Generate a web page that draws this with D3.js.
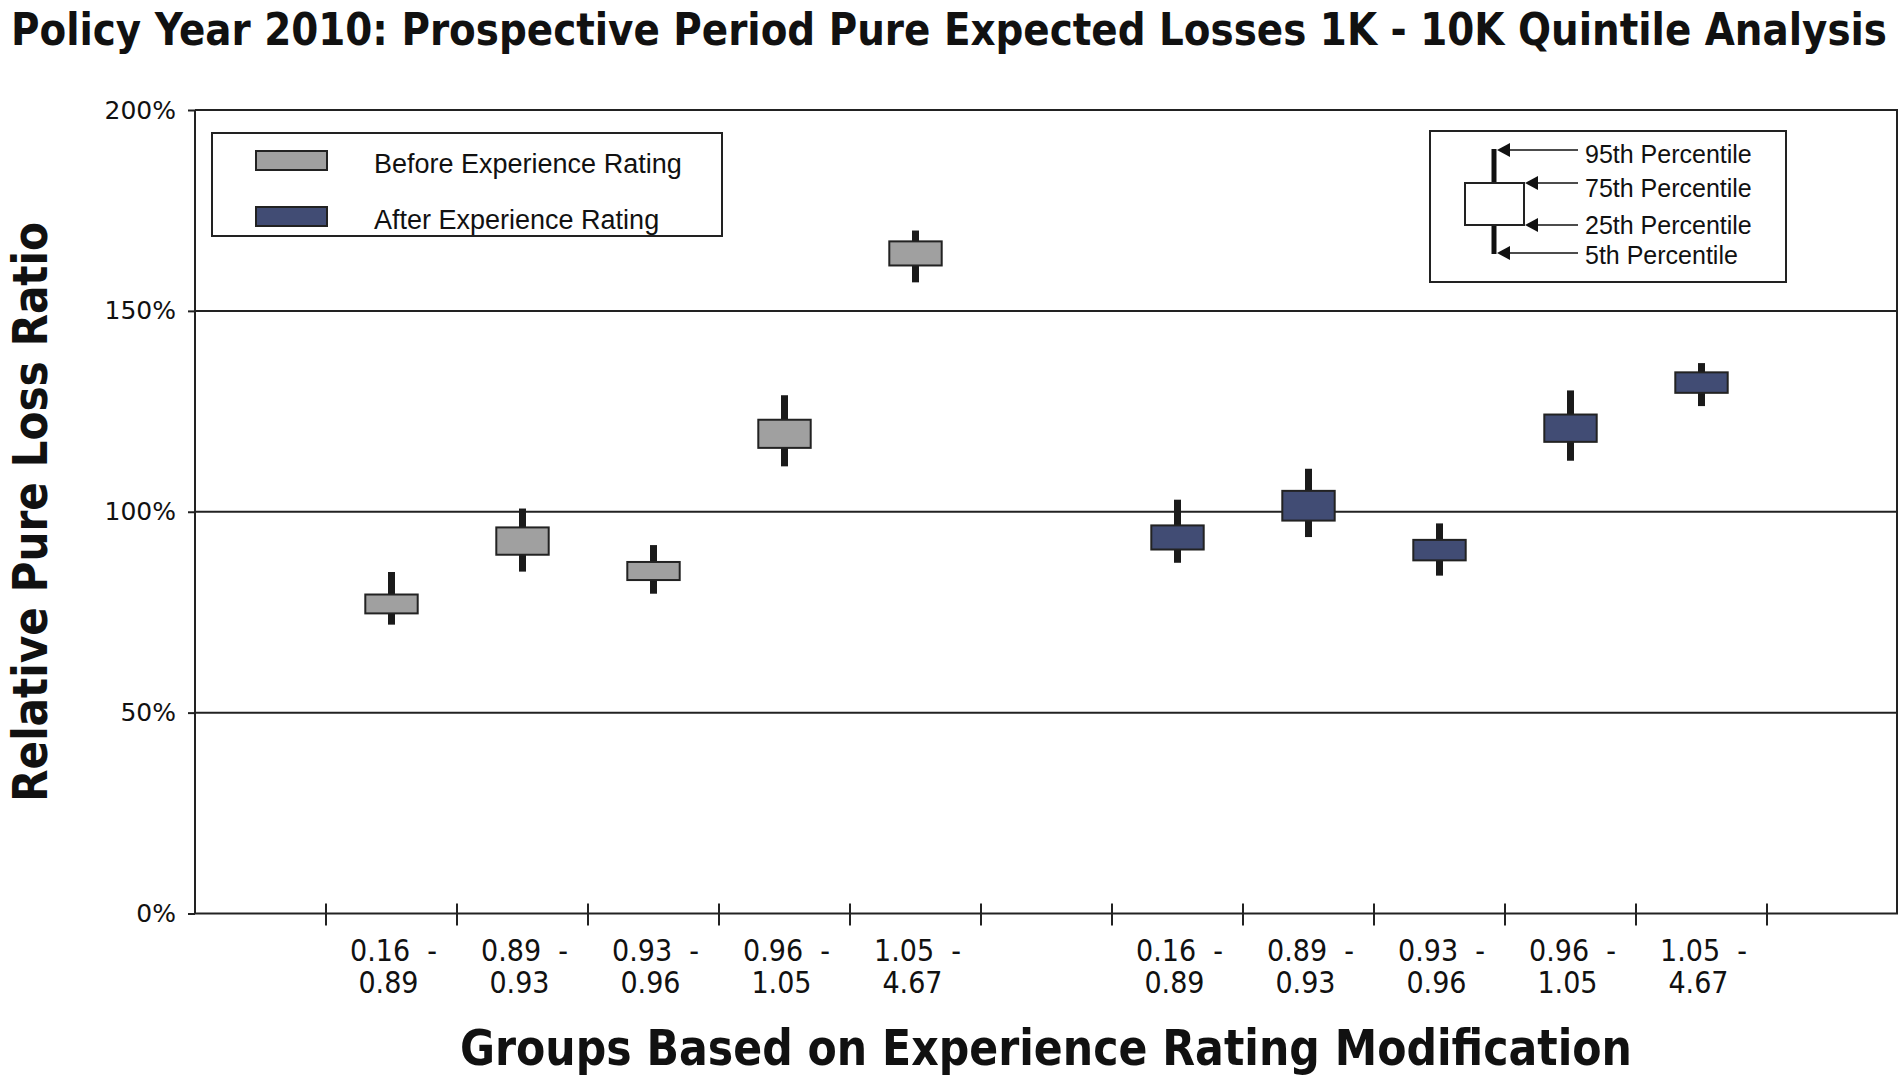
<!DOCTYPE html>
<html>
<head>
<meta charset="utf-8">
<script src="https://cdn.jsdelivr.net/npm/d3@7"></script>
<style>
  body { margin: 0; background: #fff; }
  svg { display: block; }
  .narrow { font-family: "Liberation Sans Narrow", "Arial Narrow", "DejaVu Sans Condensed", sans-serif; }
  .plain { font-family: "Liberation Sans", Arial, sans-serif; }
</style>
</head>
<body>
<svg id="chart" width="1900" height="1079"></svg>
<script>
// groups (experience mod ranges)
const lowBounds  = ["0.16", "0.89", "0.93", "0.96", "1.05"];
const highBounds = ["0.89", "0.93", "0.96", "1.05", "4.67"];

// before experience rating, percentiles (%)
const beforeP5  = [71.9, 85.1, 79.6, 111.3, 157.1];
const beforeP25 = [74.7, 89.3, 83.0, 115.9, 161.3];
const beforeP75 = [79.4, 96.1, 87.5, 122.9, 167.3];
const beforeP95 = [85.0, 100.8, 91.7, 129.0, 170.0];

// after experience rating, percentiles (%)
const afterP5  = [87.3, 93.7, 84.1, 112.7, 126.3];
const afterP25 = [90.6, 97.8, 87.9, 117.4, 129.6];
const afterP75 = [96.6, 105.2, 93.0, 124.2, 134.7];
const afterP95 = [103.0, 110.7, 97.1, 130.2, 137.0];

const yTicks = [0, 50, 100, 150, 200];

const greyFill = "#a0a0a0";
const navyFill = "#414c74";
const ink = "#222";

const svg = d3.select('#chart');
const margin = {left: 195, right: 2, top: 110, bottom: 166};
const W = 1900, H = 1079;

// slots: empty, 5 before, empty, 5 after, empty
const slots = ["pad0"].concat(lowBounds.map((d,i) => "B" + i), ["gap"], lowBounds.map((d,i) => "A" + i), ["pad1"]);

const x = d3.scaleBand()
    .domain(slots)
    .range([margin.left, W - margin.right]);

const y = d3.scaleLinear()
    .domain([0, 200])
    .range([H - margin.bottom + 0.5, margin.top]);

// build box records
let boxes = [];
lowBounds.forEach((d,i) => {
    boxes.push({slot: "B" + i, p5: beforeP5[i], p25: beforeP25[i], p75: beforeP75[i], p95: beforeP95[i], fill: greyFill});
    boxes.push({slot: "A" + i, p5: afterP5[i], p25: afterP25[i], p75: afterP75[i], p95: afterP95[i], fill: navyFill});
});

// gridlines
svg.append('g')
    .selectAll('line').data(yTicks.filter(d => d > 0))
    .join('line')
    .attr('x1', x.range()[0]).attr('x2', x.range()[1])
    .attr('y1', d => y(d)).attr('y2', d => y(d))
    .attr('stroke', ink).attr('stroke-width', 2);

// right border
svg.append('line')
    .attr('x1', x.range()[1] - 1).attr('x2', x.range()[1] - 1)
    .attr('y1', y(200)).attr('y2', y(0))
    .attr('stroke', ink).attr('stroke-width', 2);

// y axis
const yAxis = svg.append('g')
    .attr('transform', "translate(" + x.range()[0] + ",0)")
    .call(d3.axisLeft(y).tickValues(yTicks).tickSize(7).tickPadding(12).tickFormat(d => d + "%"));
yAxis.select('.domain').attr('stroke', ink).attr('stroke-width', 2).attr('d', "M0," + y(200) + "V" + y(0));
yAxis.selectAll('.tick line').attr('stroke', ink).attr('stroke-width', 2);
yAxis.selectAll('.tick text')
    .attr('font-family', '"DejaVu Sans", sans-serif')
    .attr('font-size', 25)
    .attr('fill', '#111');

// x axis line + boundary ticks
svg.append('line')
    .attr('x1', x.range()[0]).attr('x2', x.range()[1])
    .attr('y1', y(0)).attr('y2', y(0))
    .attr('stroke', ink).attr('stroke-width', 2);

const bounds = slots.map(s => x(s)).concat([x.range()[1]]).slice(1, -1);
svg.append('g')
    .selectAll('line').data(bounds)
    .join('line')
    .attr('x1', d => d).attr('x2', d => d)
    .attr('y1', y(0) - 10).attr('y2', y(0) + 12)
    .attr('stroke', ink).attr('stroke-width', 2);

// x tick labels (two lines)
const labelG = svg.append('g').attr('class', 'narrow').attr('font-size', 30).attr('fill', '#111');
boxes.forEach((b) => {
    const i = +b.slot.slice(1);
    const cx = x(b.slot) + x.bandwidth() / 2;
    labelG.append('text')
        .attr('x', cx + 2).attr('y', 961)
        .attr('text-anchor', 'middle')
        .style('white-space', 'pre')
        .text(lowBounds[i] + "  -");
    labelG.append('text')
        .attr('x', cx - 3).attr('y', 993)
        .attr('text-anchor', 'middle')
        .text(highBounds[i]);
});

// whiskers
const boxW = x.bandwidth() * 0.4;
svg.append('g')
    .selectAll('rect').data(boxes)
    .join('rect')
    .attr('x', d => x(d.slot) + x.bandwidth() / 2 - 3.5)
    .attr('width', 7)
    .attr('y', d => y(d.p95))
    .attr('height', d => y(d.p5) - y(d.p95))
    .attr('fill', '#1a1a1a');

// boxes
svg.append('g')
    .selectAll('rect').data(boxes)
    .join('rect')
    .attr('x', d => x(d.slot) + (x.bandwidth() - boxW) / 2)
    .attr('width', boxW)
    .attr('y', d => y(d.p75))
    .attr('height', d => y(d.p25) - y(d.p75))
    .attr('fill', d => d.fill)
    .attr('stroke', ink)
    .attr('stroke-width', 2);

// series legend
const leg = svg.append('g').attr('class', 'plain');
leg.append('rect')
    .attr('x', 212).attr('y', 133).attr('width', 510).attr('height', 103)
    .attr('fill', '#fff').attr('stroke', ink).attr('stroke-width', 2);
[["Before Experience Rating", greyFill], ["After Experience Rating", navyFill]].forEach((d,i) => {
    leg.append('rect')
        .attr('x', 256).attr('y', 151 + i*56).attr('width', 71).attr('height', 19)
        .attr('fill', d[1]).attr('stroke', ink).attr('stroke-width', 2);
    leg.append('text')
        .attr('x', 374).attr('y', 173 + i*56)
        .attr('font-size', 27).attr('fill', '#111')
        .text(d[0]);
});

// percentile key
const key = svg.append('g').attr('class', 'plain');
key.append('rect')
    .attr('x', 1430).attr('y', 131).attr('width', 356).attr('height', 151)
    .attr('fill', '#fff').attr('stroke', ink).attr('stroke-width', 2);
key.append('line')
    .attr('x1', 1494).attr('x2', 1494).attr('y1', 149).attr('y2', 254)
    .attr('stroke', '#111').attr('stroke-width', 5);
key.append('rect')
    .attr('x', 1465).attr('y', 183).attr('width', 59).attr('height', 42)
    .attr('fill', '#fff').attr('stroke', ink).attr('stroke-width', 2);

const keyRows = [
    {label: "95th Percentile", ay: 150, tip: 1497, ty: 163},
    {label: "75th Percentile", ay: 183, tip: 1525, ty: 197},
    {label: "25th Percentile", ay: 225, tip: 1525, ty: 234},
    {label: "5th Percentile",  ay: 253, tip: 1497, ty: 264}
];
keyRows.forEach(r => {
    key.append('line')
        .attr('x1', r.tip + 8).attr('x2', 1578)
        .attr('y1', r.ay).attr('y2', r.ay)
        .attr('stroke', '#111').attr('stroke-width', 1.5);
    key.append('path')
        .attr('d', "M" + r.tip + "," + r.ay + "l13,-7v14z")
        .attr('fill', '#111');
    key.append('text')
        .attr('x', 1585).attr('y', r.ty)
        .attr('font-size', 25).attr('fill', '#111')
        .text(r.label);
});

// titles
svg.append('text')
    .attr('class', 'narrow')
    .attr('transform', "translate(11,45) scale(1,1.12)")
    .attr('font-size', 39).attr('font-weight', 'bold').attr('fill', '#111')
    .attr('textLength', 1876).attr('lengthAdjust', 'spacingAndGlyphs')
    .text("Policy Year 2010: Prospective Period Pure Expected Losses 1K - 10K Quintile Analysis");

svg.append('text')
    .attr('class', 'narrow')
    .attr('x', 1046).attr('y', 1065)
    .attr('text-anchor', 'middle')
    .attr('font-size', 50).attr('font-weight', 'bold').attr('fill', '#111')
    .attr('textLength', 1172).attr('lengthAdjust', 'spacingAndGlyphs')
    .text("Groups Based on Experience Rating Modification");

svg.append('text')
    .attr('class', 'narrow')
    .attr('transform', "translate(47,512) rotate(-90)")
    .attr('text-anchor', 'middle')
    .attr('font-size', 48).attr('font-weight', 'bold').attr('fill', '#111')
    .attr('textLength', 580).attr('lengthAdjust', 'spacingAndGlyphs')
    .text("Relative Pure Loss Ratio");
</script>
</body>
</html>
